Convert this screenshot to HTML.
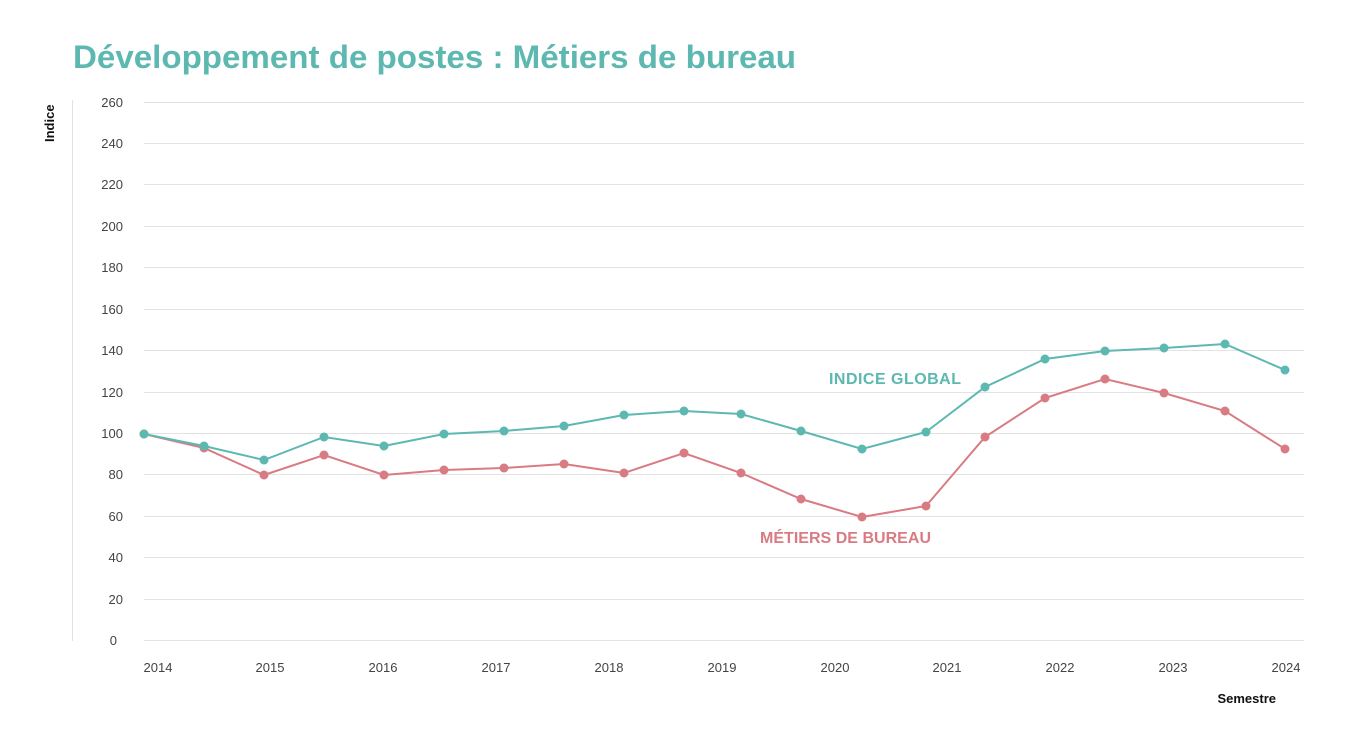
<!DOCTYPE html>
<html><head><meta charset="utf-8"><style>
body{margin:0;background:#fff;}
svg{display:block;font-family:"Liberation Sans",sans-serif;}
</style></head><body>
<svg width="1351" height="737" viewBox="0 0 1351 737">
<text x="73" y="68" font-size="32" font-weight="bold" fill="#5cb8b0" textLength="723" lengthAdjust="spacingAndGlyphs">Développement de postes : Métiers de bureau</text>
<text transform="translate(54,142) rotate(-90)" font-size="13" font-weight="bold" fill="#111">Indice</text>
<line x1="72.5" y1="100" x2="72.5" y2="641" stroke="#e2e2e2"/>
<g stroke="#e3e3e3" stroke-width="1">
<line x1="144" x2="1304" y1="102.5" y2="102.5"/><line x1="144" x2="1304" y1="143.5" y2="143.5"/>
<line x1="144" x2="1304" y1="184.5" y2="184.5"/><line x1="144" x2="1304" y1="226.5" y2="226.5"/>
<line x1="144" x2="1304" y1="267.5" y2="267.5"/><line x1="144" x2="1304" y1="309.5" y2="309.5"/>
<line x1="144" x2="1304" y1="350.5" y2="350.5"/><line x1="144" x2="1304" y1="392.5" y2="392.5"/>
<line x1="144" x2="1304" y1="433.5" y2="433.5"/><line x1="144" x2="1304" y1="474.5" y2="474.5"/>
<line x1="144" x2="1304" y1="516.5" y2="516.5"/><line x1="144" x2="1304" y1="557.5" y2="557.5"/>
<line x1="144" x2="1304" y1="599.5" y2="599.5"/><line x1="144" x2="1304" y1="640.5" y2="640.5"/>
</g>
<g font-size="13" fill="#444" text-anchor="end">
<text x="123" y="107">260</text><text x="123" y="148">240</text><text x="123" y="189">220</text>
<text x="123" y="231">200</text><text x="123" y="272">180</text><text x="123" y="314">160</text>
<text x="123" y="355">140</text><text x="123" y="397">120</text><text x="123" y="438">100</text>
<text x="123" y="479">80</text><text x="123" y="521">60</text><text x="123" y="562">40</text>
<text x="123" y="604">20</text><text x="117" y="645">0</text>
</g>
<g font-size="13" fill="#444" text-anchor="middle">
<text x="158" y="672">2014</text><text x="270" y="672">2015</text><text x="383" y="672">2016</text>
<text x="496" y="672">2017</text><text x="609" y="672">2018</text><text x="722" y="672">2019</text>
<text x="835" y="672">2020</text><text x="947" y="672">2021</text><text x="1060" y="672">2022</text>
<text x="1173" y="672">2023</text><text x="1286" y="672">2024</text>
</g>
<text x="1276" y="703" font-size="13" font-weight="bold" fill="#111" text-anchor="end">Semestre</text>
<polyline fill="none" stroke="#d97b83" stroke-width="2" points="144,434 204,448 264,475 324,455 384,475 444,470 504,468 564,464 624,473 684,453 741,473 801,499 862,517 926,506 985,437 1045,398 1105,379 1164,393 1225,411 1285,449"/>
<g fill="#d97b83">
<circle cx="144" cy="434" r="4.5"/><circle cx="204" cy="448" r="4.5"/><circle cx="264" cy="475" r="4.5"/><circle cx="324" cy="455" r="4.5"/><circle cx="384" cy="475" r="4.5"/><circle cx="444" cy="470" r="4.5"/><circle cx="504" cy="468" r="4.5"/><circle cx="564" cy="464" r="4.5"/><circle cx="624" cy="473" r="4.5"/><circle cx="684" cy="453" r="4.5"/><circle cx="741" cy="473" r="4.5"/><circle cx="801" cy="499" r="4.5"/><circle cx="862" cy="517" r="4.5"/><circle cx="926" cy="506" r="4.5"/><circle cx="985" cy="437" r="4.5"/><circle cx="1045" cy="398" r="4.5"/><circle cx="1105" cy="379" r="4.5"/><circle cx="1164" cy="393" r="4.5"/><circle cx="1225" cy="411" r="4.5"/><circle cx="1285" cy="449" r="4.5"/>
</g>
<polyline fill="none" stroke="#5cb8b0" stroke-width="2" points="144,434 204,446 264,460 324,437 384,446 444,434 504,431 564,426 624,415 684,411 741,414 801,431 862,449 926,432 985,387 1045,359 1105,351 1164,348 1225,344 1285,370"/>
<g fill="#5cb8b0">
<circle cx="144" cy="434" r="4.5"/><circle cx="204" cy="446" r="4.5"/><circle cx="264" cy="460" r="4.5"/><circle cx="324" cy="437" r="4.5"/><circle cx="384" cy="446" r="4.5"/><circle cx="444" cy="434" r="4.5"/><circle cx="504" cy="431" r="4.5"/><circle cx="564" cy="426" r="4.5"/><circle cx="624" cy="415" r="4.5"/><circle cx="684" cy="411" r="4.5"/><circle cx="741" cy="414" r="4.5"/><circle cx="801" cy="431" r="4.5"/><circle cx="862" cy="449" r="4.5"/><circle cx="926" cy="432" r="4.5"/><circle cx="985" cy="387" r="4.5"/><circle cx="1045" cy="359" r="4.5"/><circle cx="1105" cy="351" r="4.5"/><circle cx="1164" cy="348" r="4.5"/><circle cx="1225" cy="344" r="4.5"/><circle cx="1285" cy="370" r="4.5"/>
</g>
<text x="829" y="384" font-size="16" font-weight="bold" fill="#5cb8b0" textLength="132">INDICE GLOBAL</text>
<text x="760" y="543" font-size="16" font-weight="bold" fill="#d97b83" textLength="171">MÉTIERS DE BUREAU</text>
</svg>
</body></html>
